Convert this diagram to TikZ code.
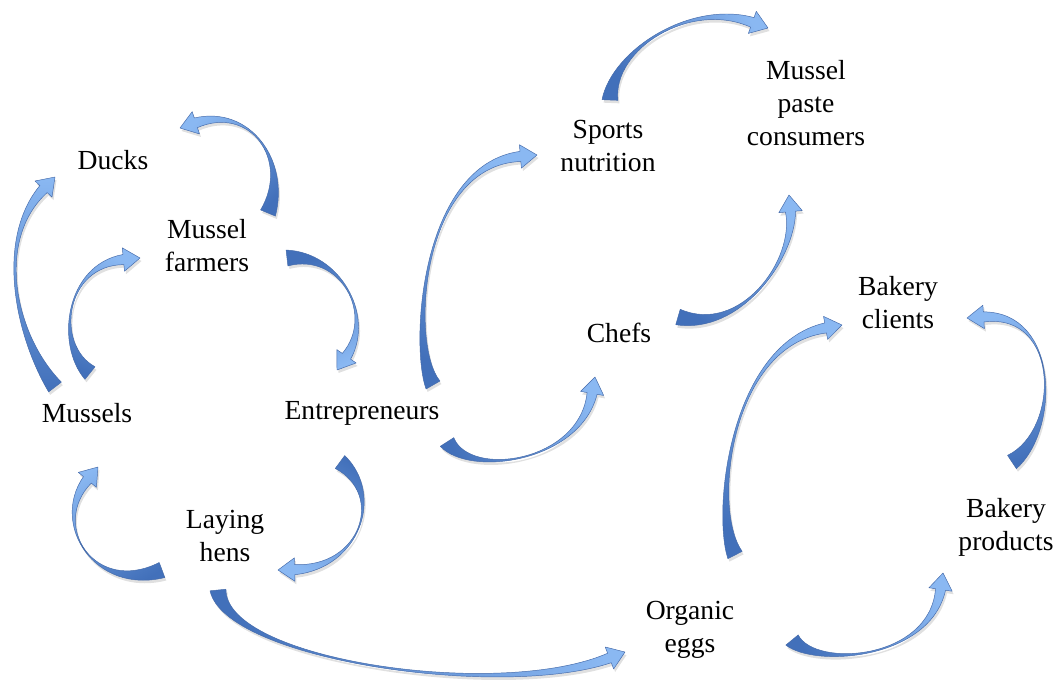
\documentclass[tikz,border=0pt]{standalone}
\usepackage{fontspec}
\setmainfont{Liberation Serif}
\usetikzlibrary{calc}

\definecolor{ribdark}{RGB}{66,112,186}
\definecolor{riblight}{RGB}{138,184,242}
\definecolor{ribedge}{RGB}{68,106,170}

% half widths and head size of the ribbon arrows
\newcommand\tailhw{6pt}
\newcommand\neckhw{3.8pt}
\newcommand\headhw{8.8pt}
\newcommand\headlen{12.5pt}

% outline of one ribbon arrow, built from the named points q0..q3
\newcommand\ribbonshape{(qtl) .. controls (q1) and (q2) .. (qnl) -- (qhl) -- (q3) -- (qhr) -- (qnr) .. controls (q2) and (q1) .. (qtr) -- cycle}

% #1 tail, #2 and #3 controls, #4 tip
\newcommand\ribbonarrow[4]{%
  \coordinate (q0) at #1;
  \coordinate (q1) at #2;
  \coordinate (q2) at #3;
  \coordinate (q3) at #4;
  \coordinate (qb)  at ($(q3)!\headlen!(q2)$);
  \coordinate (qtl) at ($(q0)!\tailhw!90:(q1)$);
  \coordinate (qtr) at ($(q0)!\tailhw!-90:(q1)$);
  \coordinate (qnl) at ($(qb)!\neckhw!-90:(q2)$);
  \coordinate (qnr) at ($(qb)!\neckhw!90:(q2)$);
  \coordinate (qhl) at ($(qb)!\headhw!-90:(q2)$);
  \coordinate (qhr) at ($(qb)!\headhw!90:(q2)$);
  \path let \p1 = ($(q3)-(q0)$), \n1 = {atan2(\y1,\x1)-90} in \pgfextra{\xdef\ribang{\n1}};
  \begin{scope}[transform canvas={shift={(1.5,3)}}]
    \fill[black, opacity=0.12] \ribbonshape;
  \end{scope}
  \shade[ribbon, shading angle=\ribang] \ribbonshape;
  \draw[ribbonedge] \ribbonshape;
}

\tikzset{
  lbl/.style={font=\fontsize{20.7}{24.75}\selectfont, align=center, inner sep=0pt},
  ribbon/.style={top color=riblight, bottom color=ribdark},
  ribbonedge/.style={draw=ribedge, line width=0.35pt, line join=round}
}

\begin{document}
\begin{tikzpicture}[x=0.75pt, y=-0.75pt]
\useasboundingbox[fill=white] (0,0) rectangle (1056,686);

% labels
\node[lbl] (ducks)   at (113,160) {Ducks};
\node[lbl] (mfarm)   at (207,246) {Mussel\\farmers};
\node[lbl] (mussels) at (87,413)  {Mussels};
\node[lbl] (entre)   at (362,413) {Entrepreneurs};
\node[lbl] (hens)    at (225,536) {Laying\\hens};
\node[lbl] (sports)  at (608,146) {Sports\\nutrition};
\node[lbl] (paste)   at (806,103) {Mussel\\paste\\consumers};
\node[lbl] (chefs)   at (619,333) {Chefs};
\node[lbl] (bclient) at (898,303) {Bakery\\clients};
\node[lbl] (bprod)   at (1006,527) {Bakery\\products};
\node[lbl] (eggs)    at (690,630) {Organic\\eggs};

% ribbon arrows between the labels
\ribbonarrow{(268,213)}{(290,160)}{(250,105)}{(180,128)}   % farmers -> ducks
\ribbonarrow{(90,373)}{(55,345)}{(65,265)}{(140,258)}      % mussels -> farmers
\ribbonarrow{(55,387)}{(15,335)}{(-5,240)}{(55,177)}       % mussels -> ducks
\ribbonarrow{(287,258)}{(340,252)}{(375,315)}{(337,370)}   % farmers -> entrepreneurs
\ribbonarrow{(340,462)}{(385,495)}{(360,568)}{(278,570)}   % entrepreneurs -> hens
\ribbonarrow{(162,570)}{(95,595)}{(50,525)}{(98,467)}      % hens -> mussels
\ribbonarrow{(218,590)}{(225,660)}{(500,700)}{(625,652)}   % hens -> eggs
\ribbonarrow{(433,385)}{(410,345)}{(420,165)}{(537,155)}   % entrepreneurs -> sports
\ribbonarrow{(447,442)}{(470,478)}{(580,462)}{(595,377)}   % entrepreneurs -> chefs
\ribbonarrow{(610,100)}{(612,50)}{(690,0)}{(768,28)}       % sports -> paste consumers
\ribbonarrow{(678,317)}{(740,335)}{(795,260)}{(789,195)}   % chefs -> paste consumers
\ribbonarrow{(735,555)}{(712,510)}{(730,345)}{(842,325)}   % eggs -> bakery clients
\ribbonarrow{(792,640)}{(815,668)}{(930,660)}{(943,573)}   % eggs -> bakery products
\ribbonarrow{(1012,462)}{(1060,430)}{(1060,312)}{(967,318)} % products -> clients
\end{tikzpicture}
\end{document}
